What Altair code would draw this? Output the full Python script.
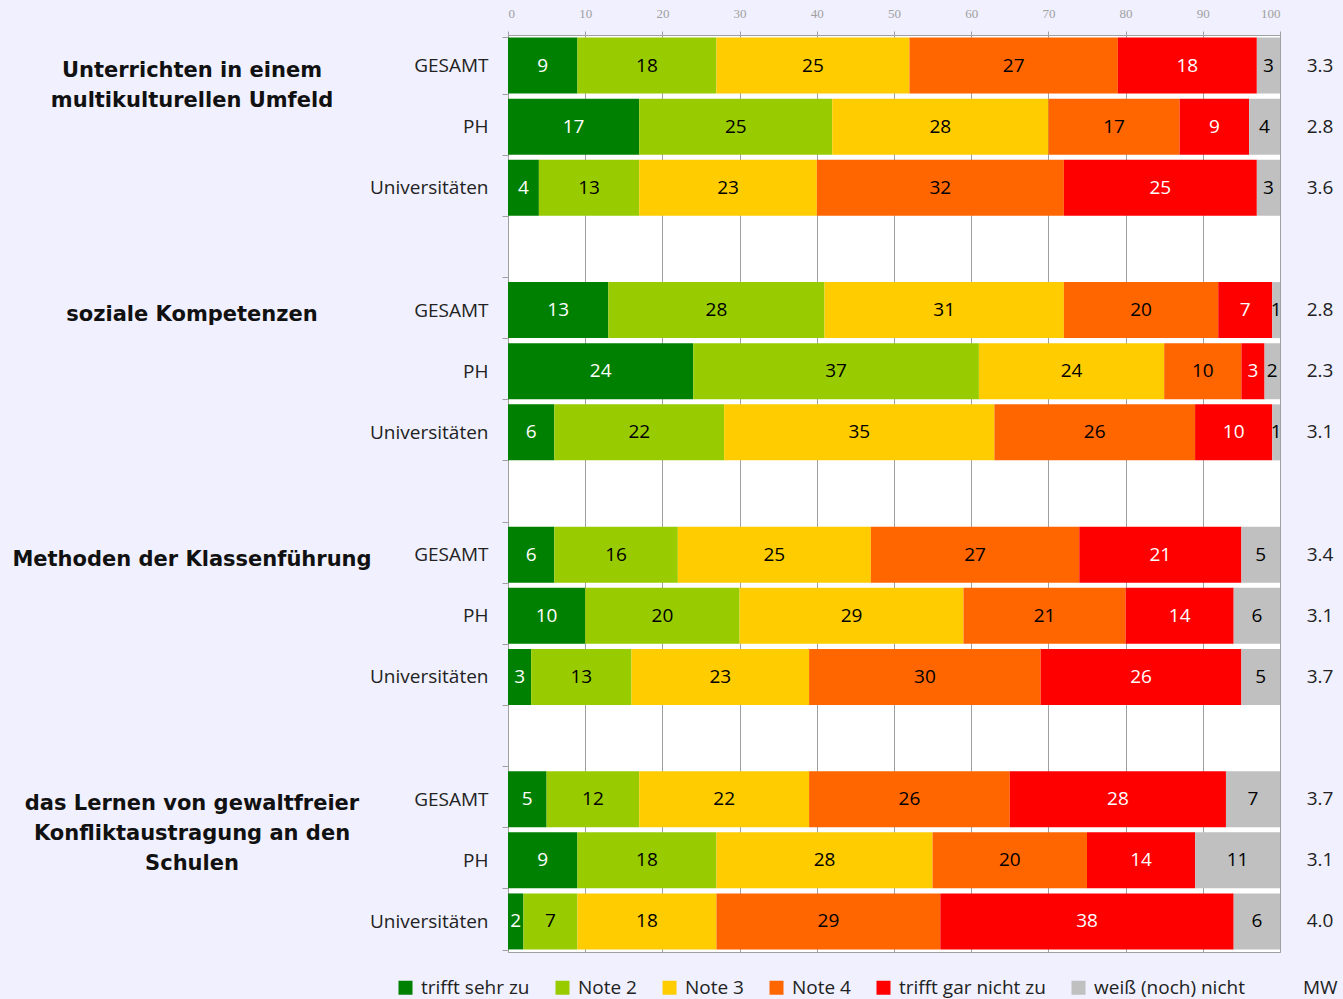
import altair as alt
import pandas as pd

# Answer categories and their fills
categories = ["trifft sehr zu", "Note 2", "Note 3", "Note 4", "trifft gar nicht zu", "weiß (noch) nicht"]
colors = ["#008000", "#99CC00", "#FFCC00", "#FF6600", "#FF0000", "#C0C0C0"]

groups = [
    "Unterrichten in einem\nmultikulturellen Umfeld",
    "soziale Kompetenzen",
    "Methoden der Klassenführung",
    "das Lernen von gewaltfreier\nKonfliktaustragung an den\nSchulen",
]
subgroups = ["GESAMT", "PH", "Universitäten"]

# Percent shares per subgroup (rows: GESAMT, PH, Universitäten)
multikulturell = [[9, 18, 25, 27, 18, 3], [17, 25, 28, 17, 9, 4], [4, 13, 23, 32, 25, 3]]
sozial = [[13, 28, 31, 20, 7, 1], [24, 37, 24, 10, 3, 2], [6, 22, 35, 26, 10, 1]]
klassenfuehrung = [[6, 16, 25, 27, 21, 5], [10, 20, 29, 21, 14, 6], [3, 13, 23, 30, 26, 5]]
gewaltfrei = [[5, 12, 22, 26, 28, 7], [9, 18, 28, 20, 14, 11], [2, 7, 18, 29, 38, 6]]

# Mean scores (MW)
mw_multikulturell = [3.3, 2.8, 3.6]
mw_sozial = [2.8, 2.3, 3.1]
mw_klassenfuehrung = [3.4, 3.1, 3.7]
mw_gewaltfrei = [3.7, 3.1, 4.0]

all_values = [multikulturell, sozial, klassenfuehrung, gewaltfrei]
all_mw = [mw_multikulturell, mw_sozial, mw_klassenfuehrung, mw_gewaltfrei]

# Row order: three bars per group, an empty row between groups
row_order = []
for gi in range(len(groups)):
    for sub in subgroups:
        row_order.append(f"{gi}|{sub}")
    if gi < len(groups) - 1:
        row_order.append(f"{gi}|")

seg_rows, mw_rows, title_rows = [], [], []
for gi, (vals, mws) in enumerate(zip(all_values, all_mw)):
    title_rows.append({"row": f"{gi}|GESAMT", "title": groups[gi]})
    for si, sub in enumerate(subgroups):
        start = 0
        for ci, cat in enumerate(categories):
            v = vals[si][ci]
            seg_rows.append({
                "row": f"{gi}|{sub}", "cat": cat, "idx": ci, "value": v,
                "start": start, "end": start + v, "mid": start + v / 2,
            })
            start += v
        mw_rows.append({"row": f"{gi}|{sub}", "mw": f"{mws[si]:.1f}"})

seg = pd.DataFrame(seg_rows)
mw = pd.DataFrame(mw_rows)
titles = pd.DataFrame(title_rows)

y_enc = alt.Y(
    "row:N", sort=row_order,
    scale=alt.Scale(domain=row_order, paddingInner=0.08, paddingOuter=0.04),
    axis=alt.Axis(
        title=None, labelExpr="split(datum.label, '|')[1]", tickBand="extent",
        tickSize=6, labelPadding=14, labelFontSize=19, labelColor="#222222",
        labelFont="Open Sans", domainColor="#A0A0A0", tickColor="#A0A0A0", grid=False,
    ),
)

x_scale = alt.Scale(domain=[0, 100], nice=False)

bars = alt.Chart(seg).mark_bar(size=56).encode(
    x=alt.X(
        "start:Q", scale=x_scale,
        axis=alt.Axis(
            orient="top", values=list(range(0, 101, 10)), title=None, grid=True,
            gridColor="#A0A0A0", tickSize=4, tickColor="#A0A0A0", domainColor="#A0A0A0",
            labelFont="Liberation Serif", labelFontSize=13, labelColor="#A0A0A0",
            labelPadding=11,
        ),
    ),
    x2="end:Q",
    y=y_enc,
    color=alt.Color(
        "cat:N",
        scale=alt.Scale(domain=categories, range=colors),
        legend=alt.Legend(
            title="MW", orient="none", legendX=-112, legendY=943, direction="horizontal",
            titleOrient="right", titlePadding=58, titleFontWeight="normal",
            titleFontSize=19, titleFont="Open Sans", titleColor="#222222",
            titleBaseline="middle",
            symbolType="square", symbolSize=196, symbolStrokeWidth=0,
            labelFont="Open Sans", labelFontSize=19, labelColor="#222222",
            labelOffset=6, columnPadding=23, labelLimit=300,
        ),
    ),
    order=alt.Order("idx:Q"),
)

seg_labels = alt.Chart(seg).mark_text(font="Open Sans", fontSize=19, baseline="middle").encode(
    x=alt.X("mid:Q", scale=x_scale),
    y=alt.Y("row:N", sort=row_order),
    text=alt.Text("value:Q"),
    color=alt.condition(
        "datum.cat == 'trifft sehr zu' || datum.cat == 'trifft gar nicht zu'",
        alt.value("white"), alt.value("black"),
    ),
)

mw_labels = alt.Chart(mw).mark_text(
    font="Open Sans", fontSize=19, baseline="middle", align="center", dx=40
).encode(
    x=alt.datum(100, scale=x_scale),
    y=alt.Y("row:N", sort=row_order),
    text="mw:N",
    color=alt.value("#222222"),
)

group_titles = alt.Chart(titles).mark_text(
    font="DejaVu Sans", fontSize=21, fontWeight="bold", align="center",
    baseline="top", lineBreak="\n", lineHeight=30, dy=-6,
).encode(
    x=alt.value(-316),
    y=alt.Y("row:N", sort=row_order),
    text="title:N",
    color=alt.value("#111111"),
)

chart = alt.layer(bars, seg_labels, mw_labels, group_titles).properties(
    width=772, height=917,
    autosize=alt.AutoSizeParams(type="none"),
    padding={"left": 508, "top": 35, "right": 63, "bottom": 47},
    background="#F0F0FE",
).configure_view(
    fill="white", stroke="#A0A0A0", strokeWidth=1,
)

chart.save("out.html", embed_options={"renderer": "svg", "actions": False})
